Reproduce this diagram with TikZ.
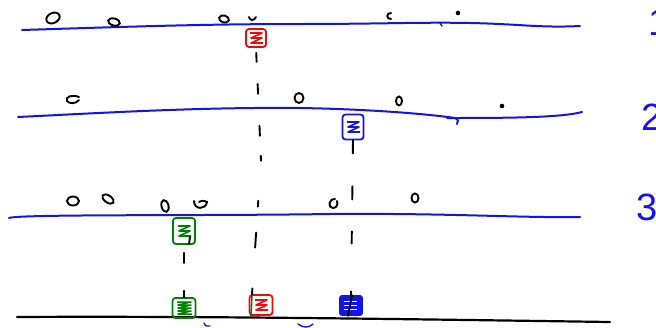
\documentclass[tikz,border=0pt]{standalone}
\usetikzlibrary{calc}
\usepackage{fontspec}
\setsansfont{Liberation Sans}
\definecolor{penblue}{RGB}{20,20,230}
\definecolor{pengreen}{RGB}{0,128,0}
\definecolor{penred}{RGB}{240,10,10}
\begin{document}
\begin{tikzpicture}[x=1pt,y=-1pt,
  lane/.style={draw=penblue,line width=2pt,line cap=round,line join=round},
  base/.style={draw=black,line width=2.2pt,line cap=round},
  zero/.style={draw=black,line width=1.9pt,line cap=round},
  tick/.style={draw=black,line width=1.9pt,line cap=round},
  zbox/.style={draw=#1,line width=1.8pt,rounded corners=3pt,inner sep=0pt,
     minimum width=20pt,minimum height=18pt,
     path picture={\draw[#1,line width=1.6pt,line join=round,sharp corners]
       ([shift={(-6,-5)}]path picture bounding box.center) -- ++(12,0) -- ++(-11,5)
       -- ++(11,0) -- ++(-11,5) -- ++(12,0);}},
  zboxdense/.style={draw=#1,line width=1.8pt,rounded corners=3pt,inner sep=0pt,
     path picture={\draw[#1,line width=1.5pt,line join=round,sharp corners]
       ([shift={(-7,-6)}]path picture bounding box.center) -- ++(14,0) -- ++(-13,3)
       -- ++(13,0) -- ++(-13,3) -- ++(13,0) -- ++(-13,3) -- ++(13,0) -- ++(-13,3) -- ++(14,0);}},
  zboxfill/.style={draw=#1,fill=#1,line width=1.8pt,rounded corners=2pt,inner sep=0pt,
     path picture={\draw[white,line width=0.9pt,sharp corners]
       ([shift={(-7,-4)}]path picture bounding box.center) -- ++(13,0)
       ([shift={(-7,0)}]path picture bounding box.center) -- ++(13,0)
       ([shift={(-7,4)}]path picture bounding box.center) -- ++(13,0);}},
  lanelabel/.style={text=penblue,font=\sffamily\fontsize{38}{38}\selectfont,inner sep=0pt}
]
\useasboundingbox (0,0) rectangle (656,327);
\clip (0,0) rectangle (656,327);

% lanes
\draw[lane] (22,30) .. controls (120,27) and (200,24) .. (300,24)
  .. controls (380,24) and (420,22) .. (470,23) .. controls (520,24) and (540,28) .. (580,26);
\draw[lane,line width=1.4pt] (440,23) -- (442,26);
\draw[lane] (18,117) .. controls (100,113) and (200,107) .. (300,108)
  .. controls (360,109) and (420,113) .. (455,118) .. controls (458,119) and (459,122) .. (457,124);
\draw[lane] (447,118) .. controls (500,118) and (560,118) .. (582,112);
\draw[lane] (9,218) .. controls (20,214) and (200,216) .. (330,214)
  .. controls (450,213) and (520,218) .. (580,217);
\draw[base] (17,317) .. controls (200,316) and (400,319) .. (610,322);
\draw[lane,line width=1.4pt] (204,323) .. controls (205,326) .. (210,326);
\draw[lane,line width=1.4pt] (298,324) .. controls (303,328) and (309,328) .. (313,324);

% boxes
\node[zbox=penred] (r1) at (256,38) {};
\node[zbox=penblue,minimum width=21pt,minimum height=25pt] (b2) at (353,127) {};
\node[zbox=pengreen,minimum width=22pt,minimum height=26pt] (g3) at (184,231) {};
\node[zboxdense=pengreen,minimum width=23pt,minimum height=20pt] (g4) at (184,308) {};
\node[zbox=penred,minimum width=23pt,minimum height=20pt] (r4) at (261,305) {};
\node[zboxfill=penblue,minimum width=22pt,minimum height=19pt] (b4) at (351,305.5) {};
\draw[pengreen,line width=1.6pt] ([xshift=-9pt]r4.north) -- ([xshift=-10pt]r4.south);
\coordinate (redmid) at (261,160);

% dashed sticks
\draw[tick,dash pattern=on 9pt off 22pt on 10pt off 32pt on 10pt off 20pt on 5pt off 40pt on 6pt off 26pt on 15pt off 41pt on 12pt off 5pt,dash phase=248pt]
  (r1.south) -- (redmid) -- ([xshift=-9pt]r4.north);
\draw[tick,dash pattern=on 13pt off 33pt on 13pt off 32pt on 12pt off 48pt on 12pt off 20pt]
  (b2.south) -- (b4.north);
\draw[tick] ([xshift=1pt]b4.north) -- ([xshift=-3pt]b4.south);
\draw[tick,dash pattern=on 10pt off 28pt,dash phase=30pt] (g3.south) -- (g4.north);
\draw[tick] ([shift={(6,6)}]g3.center) -- ([shift={(5,13)}]g3.center);

% zeros row 1
\draw[zero,rotate around={25:(53,18)}] (53,18) ellipse (7pt and 5pt);
\draw[zero,rotate around={-15:(114,22)}] (114,22) ellipse (6pt and 3.5pt);
\draw[zero,rotate around={-15:(224,19)}] (224,19) ellipse (5pt and 3.5pt);
\draw[zero] (249,17) .. controls (250,21) and (254,21) .. (256,17);
\draw[zero] (391,13) .. controls (386,13) and (386,19) .. (391,19);
\fill (458,13) circle (2.3pt);
% zeros row 2
\draw[zero] (79,97) .. controls (72,94) and (65,97) .. (67,101) .. controls (69,104) and (76,104) .. (79,100);
\draw[zero] (299,98) ellipse (4.5pt and 5pt);
\draw[zero] (399,101) ellipse (3pt and 4.5pt);
\fill (502,106) circle (2.3pt);
% zeros row 3
\draw[zero] (73,201) ellipse (6pt and 4.5pt);
\draw[zero,rotate around={-35:(108,199)}] (108,199) ellipse (6.5pt and 3.5pt);
\draw[zero,rotate around={15:(165,206)}] (165,206) ellipse (3.5pt and 6pt);
\draw[zero] (194,201) .. controls (194,210) and (206,210) .. (207,202) .. controls (204,200) and (200,201) .. (199,202);
\draw[zero] (335,199) .. controls (328,199) and (328,208) .. (333,208) .. controls (337,208) and (338,204) .. (337,201);
\draw[zero] (415,198) ellipse (3.5pt and 4.5pt);

% lane labels (cut off by the right edge, as in the sketch)
\node[lanelabel] (l1) at (659,22) {1};
\node[lanelabel] (l2) at (652,117) {2};
\node[lanelabel] (l3) at (647,207) {3};
\end{tikzpicture}
\end{document}
